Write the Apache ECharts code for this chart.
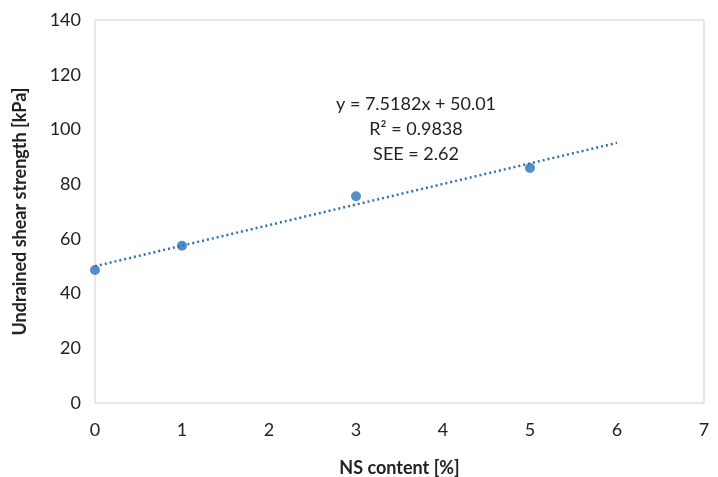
<!DOCTYPE html>
<html>
<head>
<meta charset="utf-8">
<script src="https://cdn.jsdelivr.net/npm/echarts@6/dist/echarts.min.js"></script>
<style>
    html, body { margin: 0; padding: 0; background: #fff; }
    #main { width: 718px; height: 477px; }
</style>
</head>
<body>
<div id="main"></div>
<script>
// measured points
var nsContent = [0, 1, 3, 5];
var shearStrength = [48.6, 57.5, 75.6, 85.9];

// trendline ends
var trendX = [0, 6];
var trendY = [50.0, 95.1];

var eqLines = ['y = 7.5182x + 50.01', 'R\u00b2 = 0.9838', 'SEE = 2.62'];

var myChart = echarts.init(document.getElementById('main'));

var font = 'Lato, "Open Sans", sans-serif';
var blue = '#2a72b8';

var option = {
    animation: false,
    backgroundColor: '#fff',
    grid: {
        left: 95,
        right: 14,
        top: 20,
        bottom: 74,
        outerBoundsMode: 'none',
        containLabel: false,
        show: true,
        borderColor: '#d0d0d0',
        borderWidth: 1
    },
    xAxis: {
        type: 'value',
        min: 0,
        max: 7,
        interval: 1,
        name: 'NS content [%]',
        nameLocation: 'middle',
        nameGap: 56,
        nameTextStyle: { fontFamily: font, fontSize: 18, fontWeight: 'bold', color: '#222' },
        axisLine: { show: false },
        axisTick: { show: false },
        splitLine: { show: false },
        axisLabel: { fontFamily: font, fontSize: 18, color: '#222', margin: 18 }
    },
    yAxis: {
        type: 'value',
        min: 0,
        max: 140,
        interval: 20,
        name: 'Undrained shear strength [kPa]',
        nameLocation: 'middle',
        nameGap: 66,
        nameTextStyle: { fontFamily: font, fontSize: 18, fontWeight: 'bold', color: '#222' },
        axisLine: { show: false },
        axisTick: { show: false },
        splitLine: { show: false },
        axisLabel: { fontFamily: font, fontSize: 18, color: '#222', margin: 14 }
    },
    series: [
        {
            name: 'trend',
            type: 'line',
            data: trendX.map(function (x, i) { return [x, trendY[i]]; }),
            showSymbol: false,
            symbol: 'none',
            lineStyle: { color: blue, width: 2.5, type: [2, 3] },
            z: 1
        },
        {
            name: 'data',
            type: 'scatter',
            data: nsContent.map(function (x, i) { return [x, shearStrength[i]]; }),
            symbolSize: 10,
            itemStyle: { color: blue },
            z: 2
        }
    ],
    graphic: eqLines.map(function (t, i) {
        return {
            type: 'text',
            x: 416,
            y: 104 + i * 25,
            style: {
                text: t,
                align: 'center',
                verticalAlign: 'middle',
                fontFamily: font,
                fontSize: 18,
                fill: '#222'
            }
        };
    })
};

myChart.setOption(option);
</script>
</body>
</html>
